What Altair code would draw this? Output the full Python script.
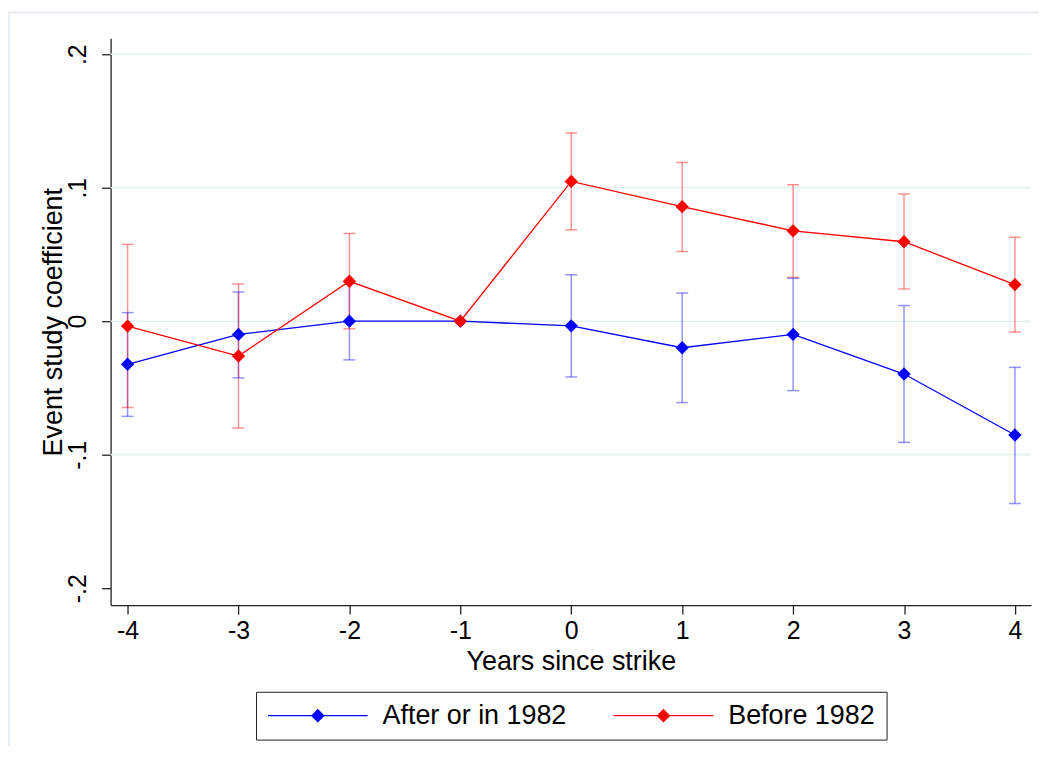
import altair as alt
import pandas as pd

# ---- data ----
years = [-4, -3, -2, -1, 0, 1, 2, 3, 4]
groups = ["After or in 1982", "Before 1982"]

after_coef = [-0.0323, -0.0099, 0.0000, 0.0000, -0.0035, -0.0199, -0.0099, -0.0396, -0.0853]
after_lo = [-0.0713, -0.0425, -0.0290, None, -0.0418, -0.0610, -0.0520, -0.0908, -0.1366]
after_hi = [0.0064, 0.0219, 0.0293, None, 0.0348, 0.0211, 0.0321, 0.0117, -0.0346]

before_coef = [-0.0037, -0.0261, 0.0299, 0.0000, 0.1047, 0.0858, 0.0677, 0.0595, 0.0274]
before_lo = [-0.0647, -0.0801, -0.0057, None, 0.0684, 0.0522, 0.0328, 0.0241, -0.0082]
before_hi = [0.0575, 0.0279, 0.0657, None, 0.1410, 0.1189, 0.1022, 0.0953, 0.0629]

series_colors = ["#0000ff", "#ff0000"]
x_ticks = years
y_ticks = [-0.2, -0.1, 0, 0.1, 0.2]
y_tick_labels = ["-.2", "-.1", "0", ".1", ".2"]
grid_values = [-0.1, 0, 0.1, 0.2]

x_title = "Years since strike"
y_title = "Event study coefficient"

# ---- tables ----
rows = []
for g, c, lo, hi in [(groups[0], after_coef, after_lo, after_hi),
                     (groups[1], before_coef, before_lo, before_hi)]:
    for i, yr in enumerate(years):
        rows.append({"year": yr, "group": g, "coef": c[i], "lo": lo[i], "hi": hi[i]})
df = pd.DataFrame(rows)
ci_df = df.dropna(subset=["lo", "hi"])
grid_df = pd.DataFrame({"g": grid_values})

FONT = "Liberation Sans"
AXIS_COLOR = "#222222"
TICK_FS = 25
TEXT_FS = 27

xscale = alt.Scale(domain=[-4.153, 4.145], nice=False, zero=False)
yscale = alt.Scale(domain=[-0.2127, 0.2119], nice=False, zero=False)
cscale = alt.Scale(domain=groups, range=series_colors)

label_expr = ""
for v, lab in zip(y_ticks, y_tick_labels):
    label_expr += f"datum.value == {v} ? '{lab}' : "
label_expr += "''"

x_axis = alt.Axis(values=x_ticks, labelExpr="'' + datum.value", grid=False,
                  tickSize=9, tickWidth=1.3, tickColor=AXIS_COLOR,
                  domainColor=AXIS_COLOR, domainWidth=1.3,
                  labelFont=FONT, labelFontSize=TICK_FS, labelColor="black",
                  labelBaseline="alphabetic", labelPadding=25,
                  labelFlush=False, labelOverlap=False,
                  title=x_title, titleFont=FONT, titleFontSize=TEXT_FS,
                  titleFontWeight="normal", titleColor="black",
                  titleX=462, titleY=65, titleAlign="center",
                  titleBaseline="alphabetic")

y_axis = alt.Axis(values=y_ticks, labelExpr=label_expr, grid=False,
                  tickSize=9, tickWidth=1.3, tickColor=AXIS_COLOR,
                  domainColor=AXIS_COLOR, domainWidth=1.3,
                  labelFont=FONT, labelFontSize=TICK_FS, labelColor="black",
                  labelAngle=270, labelAlign="center",
                  labelBaseline="alphabetic", labelPadding=16,
                  labelFlush=False, labelOverlap=False,
                  title=y_title, titleFont=FONT, titleFontSize=TEXT_FS,
                  titleFontWeight="normal", titleColor="black",
                  titleAngle=270, titleX=-49, titleY=284.5,
                  titleAlign="center", titleBaseline="alphabetic")

# legend symbol: a line with a (solid-looking) diamond in the middle
symbol_path = "M-1,0H1"
for r in [0.12, 0.1, 0.08, 0.06, 0.04, 0.02, 0.008]:
    symbol_path += f"M0,{-r}L{r},0L0,{r}L{-r},0Z"

legend = alt.Legend(
    title=None, orient="none", legendX=146, legendY=656,
    direction="horizontal",
    symbolType=symbol_path, symbolSize=10000, symbolStrokeWidth=1.3,
    symbolOpacity=1,
    clipHeight=26, labelFont=FONT, labelFontSize=TEXT_FS, labelColor="black",
    labelLimit=500, labelOffset=14, columnPadding=46, padding=11,
    strokeColor="#222222",
)

color = alt.Color("group:N", scale=cscale, legend=legend)

base = alt.Chart(df)

# outer graph-region frame (decoration)
frame = alt.Chart(pd.DataFrame({"f": [0]})).mark_rect(
    fillOpacity=0, stroke="#e4ecef", strokeWidth=1.7
).encode(x=alt.value(-102), x2=alt.value(1200), y=alt.value(-26), y2=alt.value(900))

grid = alt.Chart(grid_df).mark_rule(color="#e6eff1", strokeWidth=1.6).encode(
    y=alt.Y("g:Q", scale=yscale, axis=y_axis)
)

lines = base.mark_line(strokeWidth=1.3).encode(
    x=alt.X("year:Q", scale=xscale, axis=x_axis),
    y=alt.Y("coef:Q", scale=yscale),
    color=color,
)

ci_rule = alt.Chart(ci_df).mark_rule(strokeWidth=1.5, opacity=0.42).encode(
    x=alt.X("year:Q", scale=xscale),
    y=alt.Y("lo:Q", scale=yscale),
    y2="hi:Q",
    color=color,
)
cap_lo = alt.Chart(ci_df).mark_tick(orient="horizontal", size=12, thickness=1.5, opacity=0.42).encode(
    x=alt.X("year:Q", scale=xscale),
    y=alt.Y("lo:Q", scale=yscale),
    color=color,
)
cap_hi = alt.Chart(ci_df).mark_tick(orient="horizontal", size=12, thickness=1.5, opacity=0.42).encode(
    x=alt.X("year:Q", scale=xscale),
    y=alt.Y("hi:Q", scale=yscale),
    color=color,
)

points = base.mark_point(shape="diamond", filled=True, size=180, opacity=1).encode(
    x=alt.X("year:Q", scale=xscale),
    y=alt.Y("coef:Q", scale=yscale),
    color=color,
)

chart = alt.layer(frame, grid, lines, ci_rule, cap_lo, cap_hi, points).properties(
    width=924, height=569,
    autosize=alt.AutoSizeParams(type="none"),
    padding={"left": 103, "top": 29, "right": 8, "bottom": 140},
    background="white",
).configure_view(stroke=None)

chart.save("out.html", embed_options={"renderer": "svg", "actions": False})
